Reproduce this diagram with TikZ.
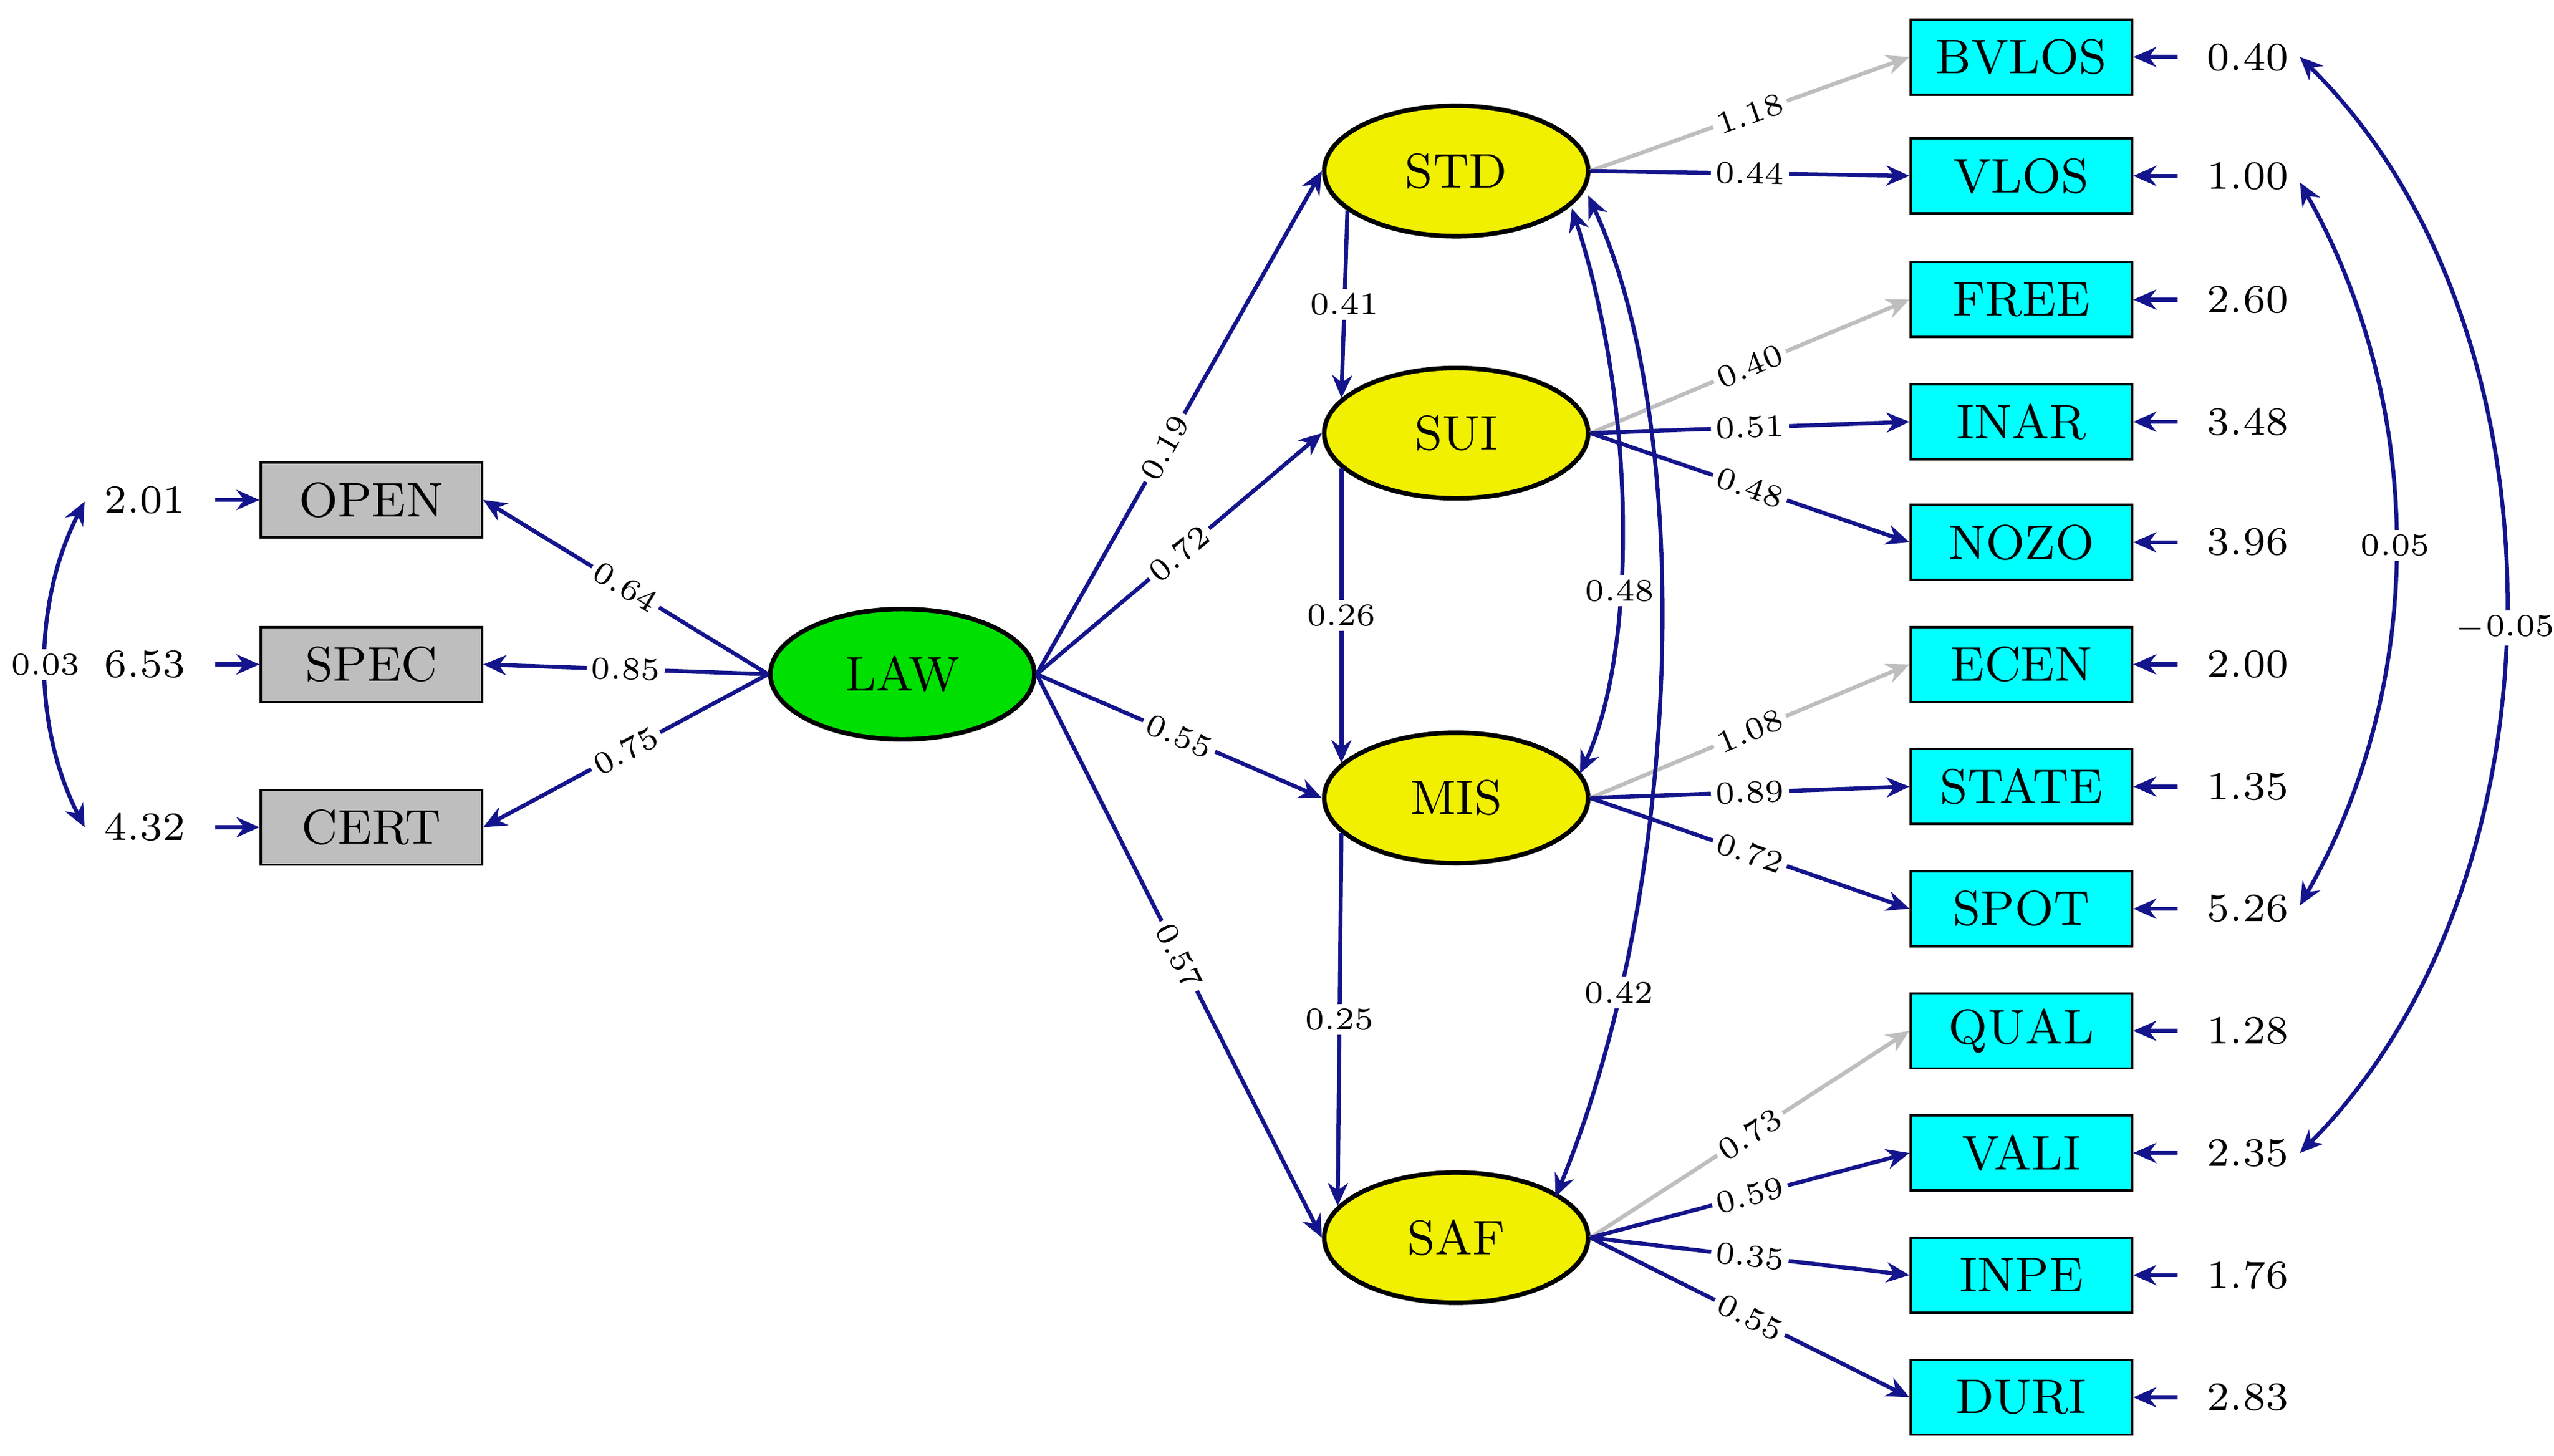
\documentclass[tikz,border=0pt]{standalone}
\usetikzlibrary{shapes.geometric,arrows.meta}
\definecolor{navy}{RGB}{20,20,140}
\definecolor{cy}{RGB}{0,255,255}
\definecolor{yl}{RGB}{240,240,0}
\definecolor{gr}{RGB}{0,224,0}
\definecolor{gy}{RGB}{190,190,190}
\begin{document}
\begin{tikzpicture}[x=0.01cm,y=-0.01cm,
  lat/.style={ellipse,draw,line width=0.8pt,minimum width=1.62cm,minimum height=0.8cm,inner sep=0pt,font=\fontsize{8.5}{10}\selectfont},
  box/.style={rectangle,draw,line width=0.4pt,minimum width=1.36cm,minimum height=0.46cm,inner sep=0pt,font=\fontsize{8.5}{10}\selectfont},
  num/.style={font=\fontsize{7}{8}\selectfont,inner sep=1pt},
  ar/.style={draw=navy,line width=0.7pt,-{Stealth[length=4pt,width=3.5pt]}},
  ga/.style={draw=gy,line width=0.7pt,-{Stealth[length=4pt,width=3.5pt]}},
  cv/.style={draw=navy,line width=0.7pt,{Stealth[length=4pt,width=3.5pt]}-{Stealth[length=4pt,width=3.5pt]}},
  lb/.style={fill=white,font=\fontsize{5.5}{6}\selectfont,inner sep=0.8pt,sloped}]
\useasboundingbox (0,0) rectangle (1568,894);
\node[lat,fill=gr] (LAW) at (554,414) {LAW};
\node[lat,fill=yl] (STD) at (894,105) {STD};
\node[lat,fill=yl] (SUI) at (894,266) {SUI};
\node[lat,fill=yl] (MIS) at (894,490) {MIS};
\node[lat,fill=yl] (SAF) at (894,760) {SAF};
\foreach \n/\y/\v in {OPEN/307/2.01,SPEC/408/6.53,CERT/508/4.32}{
  \node[box,fill=gy] (\n) at (228,\y) {\n};
  \node[num] (e\n) at (89,\y) {\v};
  \draw[ar] (e\n.east)++(14,0) coordinate (s\n) -- (\n.west);
}
\foreach \n/\y/\v in {BVLOS/35/0.40,VLOS/108/1.00,FREE/184/2.60,INAR/259/3.48,NOZO/333/3.96,ECEN/408/2.00,STATE/483/1.35,SPOT/558/5.26,QUAL/633/1.28,VALI/708/2.35,INPE/783/1.76,DURI/858/2.83}{
  \node[box,fill=cy] (\n) at (1241,\y) {\n};
  \node[num] (e\n) at (1380,\y) {\v};
  \draw[ar] (e\n.west)++(-14,0) coordinate (s\n) -- (\n.east);
}
\draw[ar] (LAW.west) -- node[lb]{0.64} (OPEN.east);
\draw[ar] (LAW.west) -- node[lb]{0.85} (SPEC.east);
\draw[ar] (LAW.west) -- node[lb]{0.75} (CERT.east);
\draw[ar] (LAW.east) -- node[lb,pos=0.45]{0.19} (STD.west);
\draw[ar] (LAW.east) -- node[lb,pos=0.5]{0.72} (SUI.west);
\draw[ar] (LAW.east) -- node[lb,pos=0.5]{0.55} (MIS.west);
\draw[ar] (LAW.east) -- node[lb,pos=0.5]{0.57} (SAF.west);
\draw[ar] (STD.200) -- node[lb,sloped=false]{0.41} (SUI.163);
\draw[ar] (SUI.197) -- node[lb,sloped=false]{0.26} (MIS.163);
\draw[ar] (MIS.197) -- node[lb,sloped=false]{0.25} (SAF.165);
\draw[ga] (STD.east) -- node[lb]{1.18} (BVLOS.west);
\draw[ar] (STD.east) -- node[lb]{0.44} (VLOS.west);
\draw[ga] (SUI.east) -- node[lb]{0.40} (FREE.west);
\draw[ar] (SUI.east) -- node[lb]{0.51} (INAR.west);
\draw[ar] (SUI.east) -- node[lb]{0.48} (NOZO.west);
\draw[ga] (MIS.east) -- node[lb]{1.08} (ECEN.west);
\draw[ar] (MIS.east) -- node[lb]{0.89} (STATE.west);
\draw[ar] (MIS.east) -- node[lb]{0.72} (SPOT.west);
\draw[ga] (SAF.east) -- node[lb]{0.73} (QUAL.west);
\draw[ar] (SAF.east) -- node[lb]{0.59} (VALI.west);
\draw[ar] (SAF.east) -- node[lb]{0.35} (INPE.west);
\draw[ar] (SAF.east) -- node[lb]{0.55} (DURI.west);
\coordinate (m1) at (965,128); \coordinate (m2) at (970,475);
\draw[cv] (m1) .. controls (1005,250) and (1005,400) .. node[lb,sloped=false,pos=0.62]{0.48} (m2);
\coordinate (f1) at (975,120); \coordinate (f2) at (955,735);
\draw[cv] (f1) .. controls (1040,260) and (1035,540) .. node[lb,sloped=false,pos=0.8]{0.42} (f2);
\coordinate (a1) at (52,308); \coordinate (a2) at (52,508);
\draw[cv] (a1) .. controls (20,370) and (20,446) .. node[lb,sloped=false]{0.03} (a2);
\coordinate (b1) at (1412,112); \coordinate (b2) at (1412,556);
\draw[cv] (b1) .. controls (1490,250) and (1490,420) .. node[lb,sloped=false,pos=0.5]{0.05} (b2);
\coordinate (c1) at (1412,35); \coordinate (c2) at (1412,708);
\draw[cv] (c1) .. controls (1580,200) and (1580,540) .. node[lb,sloped=false,pos=0.52]{$-$0.05} (c2);
\end{tikzpicture}
\end{document}
